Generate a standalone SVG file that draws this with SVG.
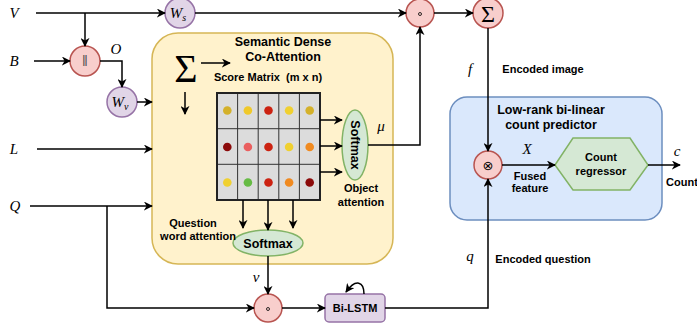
<svg xmlns="http://www.w3.org/2000/svg" width="697" height="331" viewBox="0 0 697 331">
<defs>
<marker id="ah" viewBox="0 0 10 10" refX="9" refY="5" markerWidth="9" markerHeight="9" markerUnits="userSpaceOnUse" orient="auto">
<path d="M0,0 L10,5 L0,10 L3,5 Z" fill="#000"/>
</marker>
<style>
.ln{fill:none;stroke:#000;stroke-width:1.5}
.arr{fill:none;stroke:#000;stroke-width:1.5;marker-end:url(#ah)}
.red{fill:#f8cecc;stroke:#b85450;stroke-width:1.5}
.pur{fill:#e1d5e7;stroke:#9673a6;stroke-width:1.5}
.grn{fill:#d5e8d4;stroke:#82b366;stroke-width:1.5}
.b{font-family:"Liberation Sans",Arial,sans-serif;font-weight:bold;font-size:11px;fill:#000;text-anchor:middle}
.t{font-family:"Liberation Sans",Arial,sans-serif;font-weight:bold;font-size:12.5px;fill:#000;text-anchor:middle}
.m{font-family:"Liberation Serif","Times New Roman",serif;font-style:italic;font-size:15px;fill:#000;text-anchor:middle}
.sig{font-family:"Liberation Serif","Times New Roman",serif;fill:#000;text-anchor:middle}
</style>
</defs>

<g id="coattention">
<rect x="152" y="33" width="241" height="231" rx="26" fill="#fff2cc" stroke="#d6b656" stroke-width="1.5"/>
<text class="t" x="283" y="46">Semantic Dense</text>
<text class="t" x="283" y="61">Co-Attention</text>
<text class="sig" x="186" y="82" font-size="40">Σ</text>
<text class="b" x="268" y="81" xml:space="preserve">Score Matrix  (m x n)</text>
</g>

<g id="matrix">
<rect x="217" y="93" width="103" height="107" fill="#dcdcdc"/>
<g stroke="#333" stroke-width="1">
<line x1="237.6" y1="93" x2="237.6" y2="200"/>
<line x1="258.2" y1="93" x2="258.2" y2="200"/>
<line x1="278.8" y1="93" x2="278.8" y2="200"/>
<line x1="299.4" y1="93" x2="299.4" y2="200"/>
<line x1="217" y1="128.7" x2="320" y2="128.7"/>
<line x1="217" y1="164.3" x2="320" y2="164.3"/>
</g>
<rect x="217" y="93" width="103" height="107" fill="none" stroke="#222" stroke-width="2"/>
<circle cx="227.3" cy="110.5" r="4.3" fill="#d4b12a"/>
<circle cx="247.9" cy="110.5" r="4.3" fill="#f0c92a"/>
<circle cx="268.5" cy="110.5" r="4.3" fill="#cc2211"/>
<circle cx="289.1" cy="110.5" r="4.3" fill="#f0d030"/>
<circle cx="309.7" cy="110.5" r="4.3" fill="#d4b12a"/>
<circle cx="227.3" cy="147" r="4.3" fill="#8b0a0a"/>
<circle cx="247.9" cy="147" r="4.3" fill="#ea5f5f"/>
<circle cx="268.5" cy="147" r="4.3" fill="#cc2211"/>
<circle cx="289.1" cy="147" r="4.3" fill="#f0d030"/>
<circle cx="309.7" cy="147" r="4.3" fill="#f08a20"/>
<circle cx="227.3" cy="182.5" r="4.3" fill="#f0d030"/>
<circle cx="247.9" cy="182.5" r="4.3" fill="#66bb44"/>
<circle cx="268.5" cy="182.5" r="4.3" fill="#cc2211"/>
<circle cx="289.1" cy="182.5" r="4.3" fill="#f08a20"/>
<circle cx="309.7" cy="182.5" r="4.3" fill="#8b0a0a"/>
</g>

<g id="softmax_obj">
<ellipse class="grn" cx="355" cy="145" rx="13" ry="35"/>
<text class="t" x="0" y="0" transform="translate(350.5,145) rotate(90)">Softmax</text>
<text class="b" x="361" y="192">Object</text>
<text class="b" x="361" y="206">attention</text>
</g>

<g id="softmax_q">
<ellipse class="grn" cx="268" cy="243" rx="35" ry="13"/>
<text class="t" x="268" y="247.5">Softmax</text>
<text class="b" x="193" y="227">Question</text>
<text class="b" x="198" y="240">word attention</text>
</g>

<g id="Ws"><circle class="pur" cx="180" cy="13" r="15"/><text class="m" x="178" y="18">W<tspan font-size="10" dy="3">s</tspan></text></g>
<g id="Wv"><circle class="pur" cx="122" cy="102" r="15"/><text class="m" x="120" y="107">W<tspan font-size="10" dy="3">v</tspan></text></g>
<g id="concat"><circle class="red" cx="85" cy="61" r="15"/><text x="85" y="66" font-family="Liberation Sans,sans-serif" font-size="14" text-anchor="middle" fill="#555">‖</text></g>
<g id="dot_top"><circle class="red" cx="420" cy="13" r="14"/><circle cx="420" cy="14" r="1.5" fill="none" stroke="#000" stroke-width="0.8"/></g>
<g id="sum"><circle class="red" cx="488" cy="13" r="15"/><text class="sig" x="488" y="21.5" font-size="24">Σ</text></g>
<g id="dot_bottom"><circle class="red" cx="268" cy="308" r="14"/><circle cx="268" cy="309" r="1.5" fill="none" stroke="#000" stroke-width="0.8"/></g>
<g id="bilstm"><rect class="pur" x="325" y="294" width="60" height="28" rx="4"/><text class="b" x="355" y="312">Bi-LSTM</text></g>

<g id="predictor">
<rect x="450" y="97" width="212" height="123" rx="17" fill="#dae8fc" stroke="#6c8ebf" stroke-width="1.5"/>
<text class="t" x="551" y="114">Low-rank bi-linear</text>
<text class="t" x="551" y="129">count predictor</text>
<text class="b" x="530" y="180">Fused</text>
<text class="b" x="530" y="192">feature</text>
</g>
<g id="fuse"><circle class="red" cx="488" cy="165" r="14"/><text x="488" y="170" font-family="DejaVu Sans,sans-serif" font-size="13" text-anchor="middle">⊗</text></g>
<g id="regressor">
<polygon class="grn" points="555,165 573,138 630,138 648,165 630,190 573,190"/>
<text class="b" x="601" y="161">Count</text>
<text class="b" x="601" y="175">regressor</text>
</g>

<g id="labels">
<text class="m" x="14" y="18">V</text>
<text class="m" x="14" y="66">B</text>
<text class="m" x="14" y="154">L</text>
<text class="m" x="15" y="211">Q</text>
<text class="m" x="116" y="54">O</text>
<text class="m" x="381" y="131">μ</text>
<text class="m" x="256" y="282">ν</text>
<text class="m" x="470" y="74">f</text>
<text class="m" x="470" y="261">q</text>
<text class="m" x="527" y="154">X</text>
<text class="m" x="677" y="156">c</text>
<text class="b" x="543" y="73">Encoded image</text>
<text class="b" x="543" y="263">Encoded question</text>
<text class="b" x="682" y="186" text-anchor="start">Count</text>
</g>

<g id="connectors">
<line class="arr" x1="36" y1="13" x2="165" y2="13"/>
<line class="arr" x1="195" y1="13" x2="406" y2="13"/>
<line class="arr" x1="434" y1="13" x2="473" y2="13"/>
<polyline class="arr" points="85,13 85,46"/>
<line class="arr" x1="34" y1="61" x2="70" y2="61"/>
<polyline class="arr" points="100,61 122,61 122,87"/>
<line class="arr" x1="137" y1="102" x2="152" y2="102"/>
<line class="arr" x1="37" y1="149" x2="152" y2="149"/>
<line class="arr" x1="30" y1="206" x2="152" y2="206"/>
<polyline class="arr" points="107,206 107,308 254,308"/>
<line class="arr" x1="201" y1="63" x2="230" y2="63"/>
<line class="arr" x1="185" y1="92" x2="185" y2="114"/>
<line class="arr" x1="320" y1="120" x2="342" y2="120"/>
<line class="arr" x1="320" y1="146" x2="342" y2="146"/>
<line class="arr" x1="320" y1="172" x2="342" y2="172"/>
<line class="arr" x1="243" y1="200" x2="243" y2="228"/>
<line class="arr" x1="268" y1="200" x2="268" y2="230"/>
<line class="arr" x1="293" y1="200" x2="293" y2="228"/>
<polyline class="arr" points="368,145 420,145 420,27"/>
<line class="arr" x1="268" y1="256" x2="268" y2="294"/>
<line class="arr" x1="282" y1="308" x2="325" y2="308"/>
<path class="arr" d="M364,294 C364,282 356,278 346,292"/>
<polyline class="arr" points="385,308 488,308 488,179"/>
<line class="arr" x1="488" y1="28" x2="488" y2="151"/>
<line class="arr" x1="502" y1="165" x2="555" y2="165"/>
<line class="arr" x1="648" y1="165" x2="680" y2="165"/>
</g>
</svg>
